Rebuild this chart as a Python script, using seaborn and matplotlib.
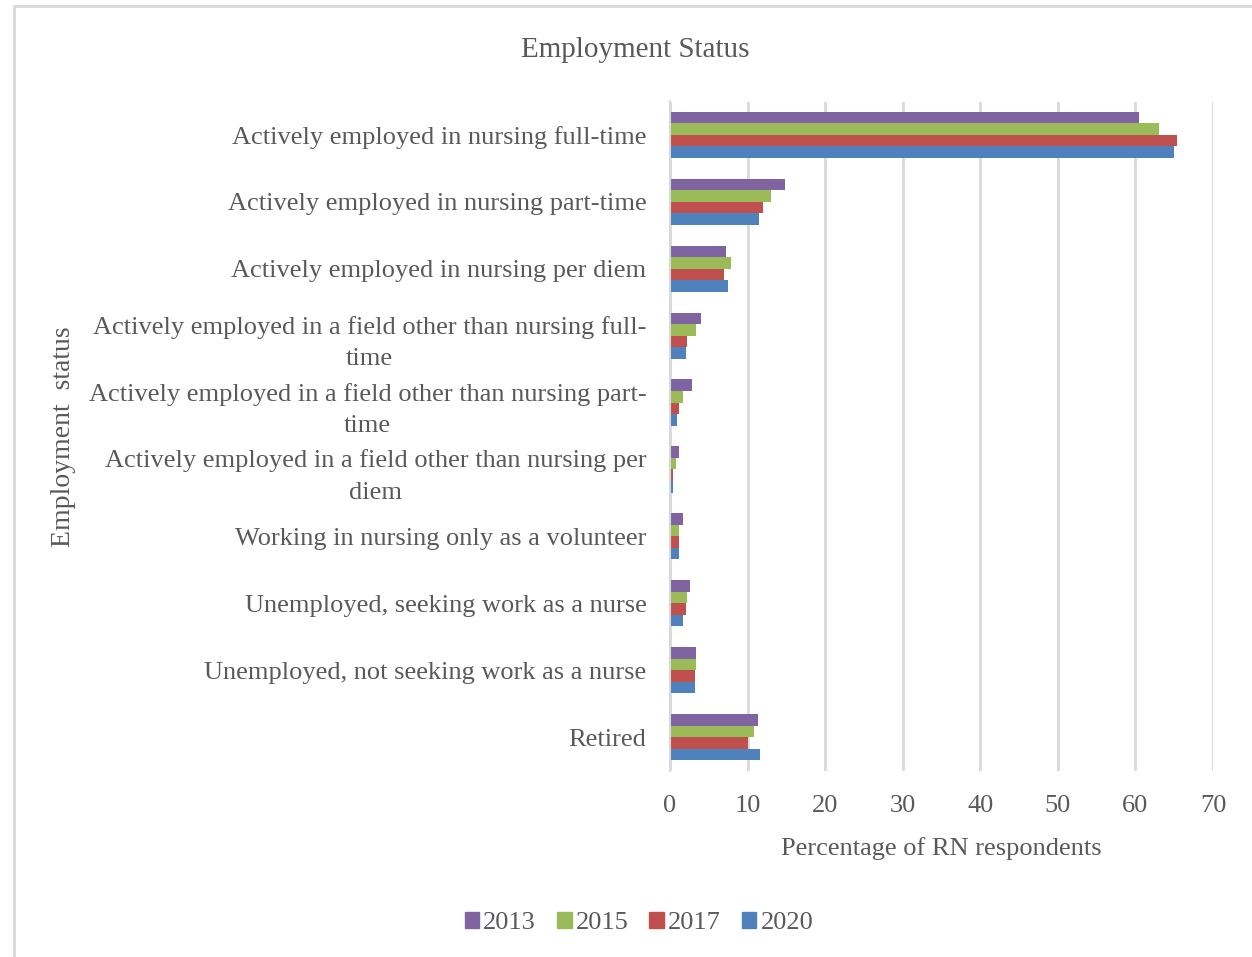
import matplotlib
matplotlib.use("Agg")
import matplotlib.pyplot as plt
import matplotlib.patches as mpatches
import seaborn as sns
import pandas as pd

categories = [
    "Actively employed in nursing full-time",
    "Actively employed in nursing part-time",
    "Actively employed in nursing per diem",
    "Actively employed in a field other than nursing full-\ntime",
    "Actively employed in a field other than nursing part-\ntime",
    "Actively employed in a field other than nursing per\ndiem",
    "Working in nursing only as a volunteer",
    "Unemployed, seeking work as a nurse",
    "Unemployed, not seeking work as a nurse",
    "Retired",
]
years = ["2013", "2015", "2017", "2020"]
pct_2013 = [60.4, 14.8, 7.2, 4.0, 2.8, 1.1, 1.7, 2.6, 3.4, 11.3]
pct_2015 = [63.0, 13.0, 7.8, 3.4, 1.7, 0.8, 1.1, 2.2, 3.4, 10.8]
pct_2017 = [65.4, 12.0, 7.0, 2.2, 1.1, 0.4, 1.2, 2.1, 3.2, 10.1]
pct_2020 = [65.0, 11.5, 7.5, 2.1, 0.9, 0.4, 1.1, 1.7, 3.2, 11.6]
colors = ["#8064A2", "#9BBB59", "#C0504D", "#4F81BD"]

rows = []
for yr, vals in zip(years, [pct_2013, pct_2015, pct_2017, pct_2020]):
    for cat, v in zip(categories, vals):
        rows.append({"status": cat, "year": yr, "pct": v})
df = pd.DataFrame(rows)

sns.set_theme(style="white")
plt.rcParams["font.family"] = ["Liberation Serif", "DejaVu Serif"]
text_color = "#595959"
grid_color = "#D9D9D9"

fig = plt.figure(figsize=(12.52, 9.57), dpi=100)
ax = fig.add_axes([670 / 1252, 1 - 770.5 / 957, 543 / 1252, 669 / 957])

sns.barplot(data=df, y="status", x="pct", hue="year", order=categories,
            hue_order=years, palette=colors, saturation=1, orient="h",
            width=0.69, gap=0, linewidth=0, legend=False, ax=ax)

ax.set_xlim(0, 70)
ax.set_ylim(9.5, -0.5)
ax.set_xticks(range(0, 71, 10))
ax.xaxis.grid(True, color=grid_color, linewidth=2)
ax.set_axisbelow(True)
for side in ["top", "right", "bottom"]:
    ax.spines[side].set_visible(False)
ax.spines["left"].set_color(grid_color)
ax.spines["left"].set_linewidth(1.5)
ax.tick_params(axis="both", length=0, labelsize=19, colors=text_color)
ax.tick_params(axis="y", pad=17)
ax.tick_params(axis="x", pad=18)
for lbl in ax.get_yticklabels():
    lbl.set_multialignment("center")
    lbl.set_linespacing(1.55)

ax.set_xlabel("Percentage of RN respondents", fontsize=19, color=text_color,
              labelpad=14)
ax.set_ylabel("")
fig.text(63 / 1252, 1 - 437 / 957, "Employment  status", rotation=90,
         ha="center", va="center", fontsize=20, color=text_color)

fig.text(635 / 1252, 1 - 50 / 957, "Employment Status", ha="center",
         va="center", fontsize=21, color=text_color)

handles = [mpatches.Patch(color=c, label=y) for c, y in zip(colors, years)]
fig.legend(handles=handles, loc="center", bbox_to_anchor=(639 / 1252, 1 - 923 / 957),
           ncol=4, frameon=False, fontsize=19, labelcolor=text_color,
           handlelength=0.55, handleheight=0.55, handletextpad=0.15,
           columnspacing=0.8)

# thin frame along the top and left edges
fig.add_artist(plt.Line2D([14 / 1252, 1], [1 - 6 / 957, 1 - 6 / 957],
                          transform=fig.transFigure, color=grid_color, linewidth=2))
fig.add_artist(plt.Line2D([14 / 1252, 14 / 1252], [0, 1 - 6 / 957],
                          transform=fig.transFigure, color=grid_color, linewidth=2))

fig.savefig("out.png", dpi=100, facecolor="white")
